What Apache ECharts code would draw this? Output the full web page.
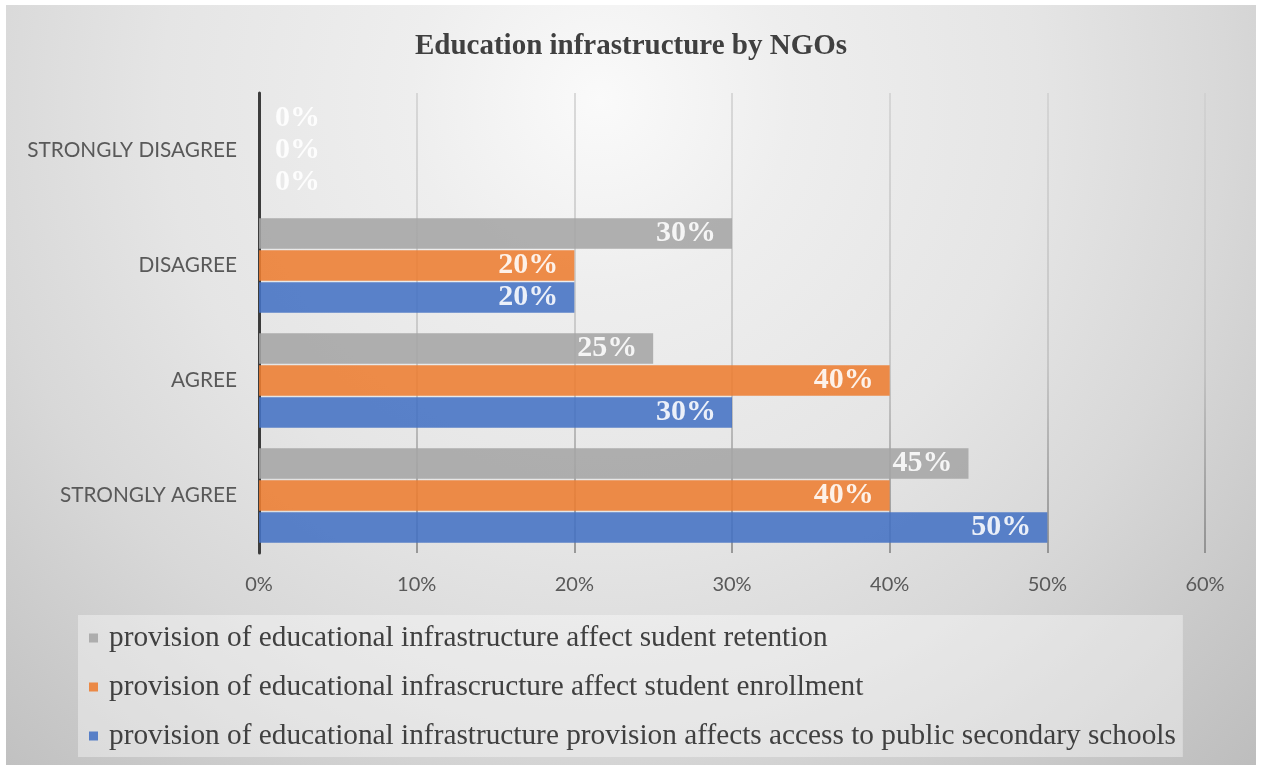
<!DOCTYPE html>
<html>
<head>
<meta charset="utf-8">
<title>Education infrastructure by NGOs</title>
<script src="https://cdn.jsdelivr.net/npm/echarts@6/dist/echarts.min.js"></script>
<style>
  html, body { margin: 0; padding: 0; background: #ffffff; }
  #chart { width: 1262px; height: 769px; }
</style>
</head>
<body>
<div id="chart"></div>
<script>
// Response categories, listed bottom to top along the vertical axis
const categories = ['STRONGLY AGREE', 'AGREE', 'DISAGREE', 'STRONGLY DISAGREE'];

// Share of responses (%) per statement
const retention  = [45, 25, 30, 0];
const enrollment = [40, 40, 20, 0];
const access     = [50, 30, 20, 0];

const seriesNames = [
  'provision of educational infrastructure affect sudent retention',
  'provision of educational infrascructure affect student enrollment',
  'provision of educational infrastructure provision affects access to public secondary schools'
];

const xTicks = [0, 10, 20, 30, 40, 50, 60];

const colors = ['#a5a5a5', '#ed7d31', '#4472c4'];

const chart = echarts.init(document.getElementById('chart'), null, { renderer: 'canvas' });

function barData(values) {
  return values.map(v => v === 0
    ? { value: v, label: { position: 'right', distance: 16 } }
    : { value: v });
}

function makeSeries(name, values, color) {
  return {
    name: name,
    type: 'bar',
    data: barData(values),
    barGap: '5%',
    barCategoryGap: '18%',
    itemStyle: { color: color, opacity: 0.88 },
    label: {
      show: true,
      position: 'insideRight',
      distance: 16,
      formatter: '{c}%',
      color: '#ffffff',
      fontFamily: 'Liberation Serif',
      fontWeight: 'bold',
      fontSize: 30
    },
    emphasis: { disabled: true },
    animation: false
  };
}

const option = {
  animation: false,
  graphic: [{
    type: 'rect',
    z: -10,
    silent: true,
    shape: { x: 6, y: 5, width: 1250, height: 760 },
    style: {
      fill: {
        type: 'radial', x: 600, y: 100, r: 950, global: true,
        colorStops: [
          { offset: 0, color: '#fafafa' },
          { offset: 0.2, color: '#eeeeee' },
          { offset: 0.46, color: '#e5e5e5' },
          { offset: 0.66, color: '#d8d8d8' },
          { offset: 0.85, color: '#c8c8c8' },
          { offset: 1, color: '#bcbcbc' }
        ]
      }
    }
  }],
  title: {
    text: 'Education infrastructure by NGOs',
    left: 'center',
    top: 27,
    textStyle: {
      fontFamily: 'Liberation Serif',
      fontWeight: 'bold',
      fontSize: 29,
      color: '#404040'
    }
  },
  legend: {
    orient: 'vertical',
    left: 78,
    top: 615,
    padding: [6, 7, 4, 11],
    itemGap: 15,
    itemWidth: 9,
    itemHeight: 9,
    icon: 'rect',
    backgroundColor: 'rgba(255,255,255,0.38)',
    data: seriesNames,
    textStyle: {
      fontFamily: 'Liberation Serif',
      fontSize: 29.3,
      lineHeight: 34,
      padding: [0, 0, 0, 6],
      color: '#404040'
    },
    selectedMode: false
  },
  grid: {
    left: 259,
    right: 57,
    top: 93,
    bottom: 216,
    containLabel: false
  },
  xAxis: {
    type: 'value',
    min: xTicks[0],
    max: xTicks[xTicks.length - 1],
    interval: 10,
    axisLine: { show: false },
    axisTick: { show: false },
    axisLabel: {
      formatter: '{value}%',
      margin: 22,
      fontFamily: 'Lato',
      fontSize: 20,
      color: '#595959'
    },
    splitLine: {
      show: true,
      lineStyle: {
        width: 1.5,
        color: {
          type: 'linear', x: 0, y: 93, x2: 0, y2: 553, global: true,
          colorStops: [
            { offset: 0, color: '#cfcfcf' },
            { offset: 0.6, color: '#bdbdbd' },
            { offset: 1, color: '#7f7f7f' }
          ]
        }
      }
    }
  },
  yAxis: {
    type: 'category',
    data: categories,
    axisLine: { show: true, lineStyle: { color: '#3c3c3c', width: 3 } },
    axisTick: { show: false },
    axisLabel: {
      margin: 22,
      fontFamily: 'Lato',
      fontSize: 20.8,
      color: '#595959'
    }
  },
  series: [
    makeSeries(seriesNames[0], retention, colors[0]),
    makeSeries(seriesNames[1], enrollment, colors[1]),
    makeSeries(seriesNames[2], access, colors[2])
  ]
};

chart.setOption(option);
</script>
</body>
</html>
